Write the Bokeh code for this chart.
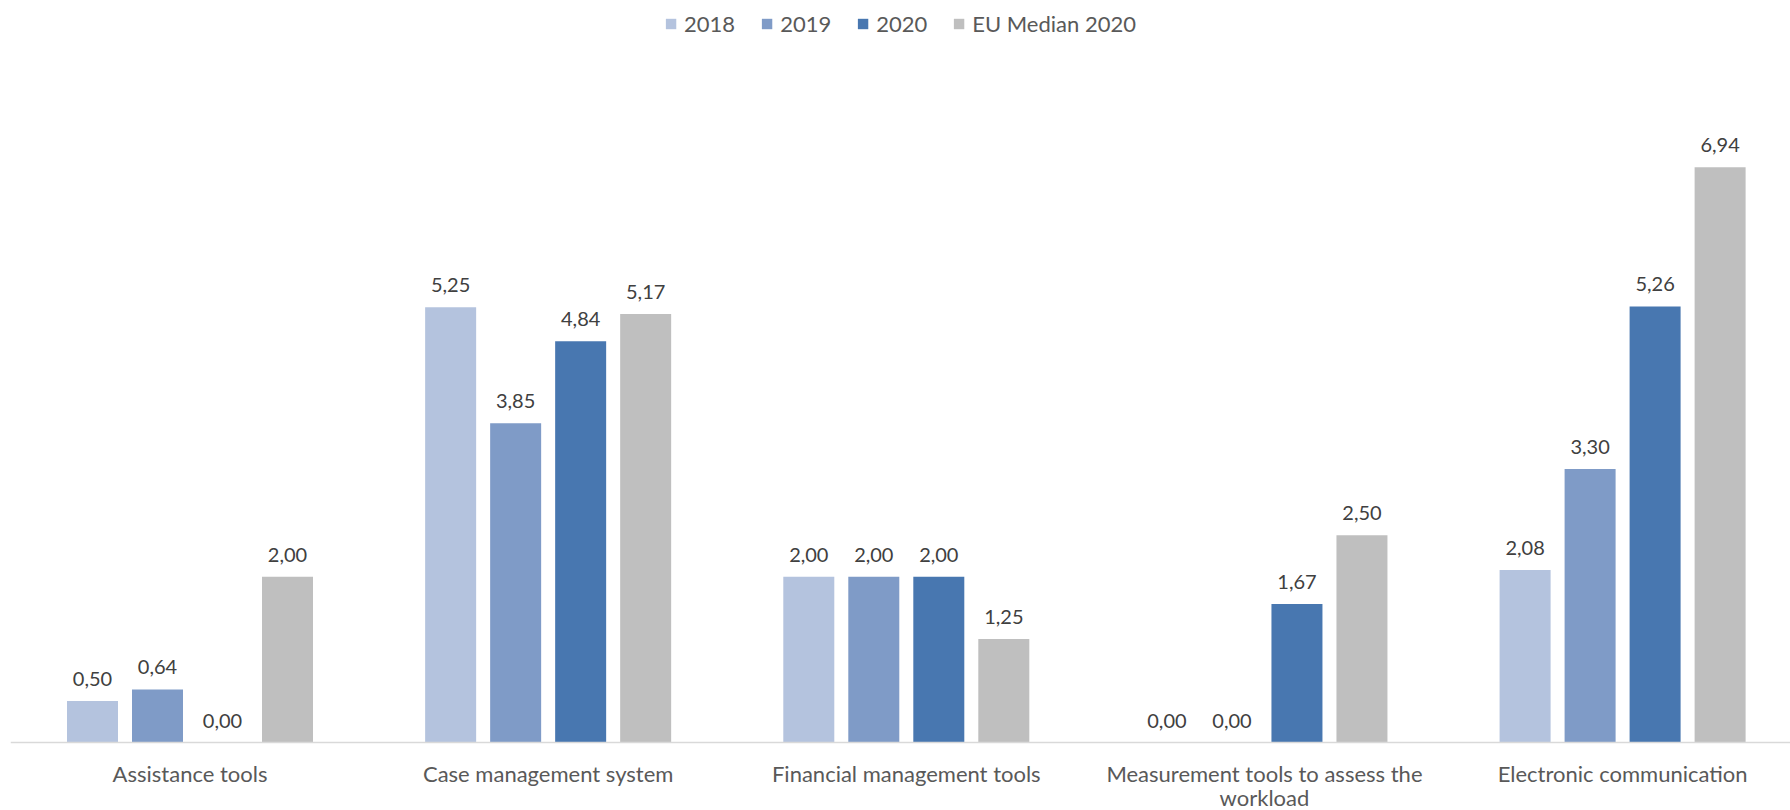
from bokeh.plotting import figure
from bokeh.models import Range1d, Legend, LegendItem, ColumnDataSource, Span
from bokeh.core.properties import value
from bokeh.embed import file_html
from bokeh.resources import INLINE

categories = ["Assistance tools", "Case management system", "Financial management tools",
              "Measurement tools to assess the\nworkload", "Electronic communication"]
series = ["2018", "2019", "2020", "EU Median 2020"]
v2018 = [0.50, 5.25, 2.00, 0.00, 2.08]
v2019 = [0.64, 3.85, 2.00, 0.00, 3.30]
v2020 = [0.00, 4.84, 2.00, 1.67, 5.26]
v_eu = [2.00, 5.17, 1.25, 2.50, 6.94]
colors = ["#b4c3de", "#7f9bc7", "#4877b0", "#bfbfbf"]

FONT = "Lato"
W, H = 1790, 810
p = figure(width=W, height=H, output_backend="svg", toolbar_location=None,
           x_range=Range1d(-0.5012, 4.4688), y_range=Range1d(-0.82, 8.83),
           min_border_left=10, min_border_right=0, min_border_top=10, min_border_bottom=0)
p.outline_line_color = None
p.grid.visible = False
p.xaxis.visible = False
p.yaxis.visible = False
p.background_fill_color = "white"

pitch = 0.1815
bar_w = 0.1424
offsets = [-1.5, -0.5, 0.5, 1.5]
all_vals = [v2018, v2019, v2020, v_eu]
idx = list(range(len(categories)))

# baseline (category axis line)
p.add_layout(Span(location=0, dimension="width", line_color="#d9d9d9", line_width=1.5))

items = []
for s, vals, col, off in zip(series, all_vals, colors, offsets):
    xs = [i + off * pitch for i in idx]
    src = ColumnDataSource(dict(x=xs, top=vals, lab=[f"{v:.2f}".replace(".", ",") for v in vals]))
    r = p.vbar(x="x", top="top", bottom=0, width=bar_w, source=src, fill_color=col, line_color=None)
    p.text(x="x", y="top", text="lab", source=src, y_offset=-22, text_align="center",
           text_baseline="alphabetic", text_font=value(FONT), text_font_size="20px",
           text_color="#404040")
    items.append(LegendItem(label=s, renderers=[r]))

# category labels (one row per text line)
cx, ct, coff = [], [], []
for i, c in zip(idx, categories):
    for k, line in enumerate(c.split("\n")):
        cx.append(i)
        ct.append(line)
        coff.append(31 + 24 * k)
cat_src = ColumnDataSource(dict(x=cx, y=[0] * len(cx), text=ct, off=coff))
p.text(x="x", y="y", text="text", y_offset="off", source=cat_src, text_align="center",
       text_baseline="alphabetic", text_font=value(FONT), text_font_size="22px",
       text_color="#595959")

legend = Legend(items=items, orientation="horizontal", location="top_center",
                glyph_width=13, glyph_height=13, label_standoff=7, spacing=25,
                label_text_font=FONT, label_text_font_size="22px", label_text_color="#595959",
                margin=0, padding=8, border_line_color=None, background_fill_alpha=0)
p.add_layout(legend)

html = file_html(p, INLINE)
html = html.replace("<head>", "<head><style>html,body{overflow:hidden;}</style>", 1)
open("out.html", "w").write(html)
